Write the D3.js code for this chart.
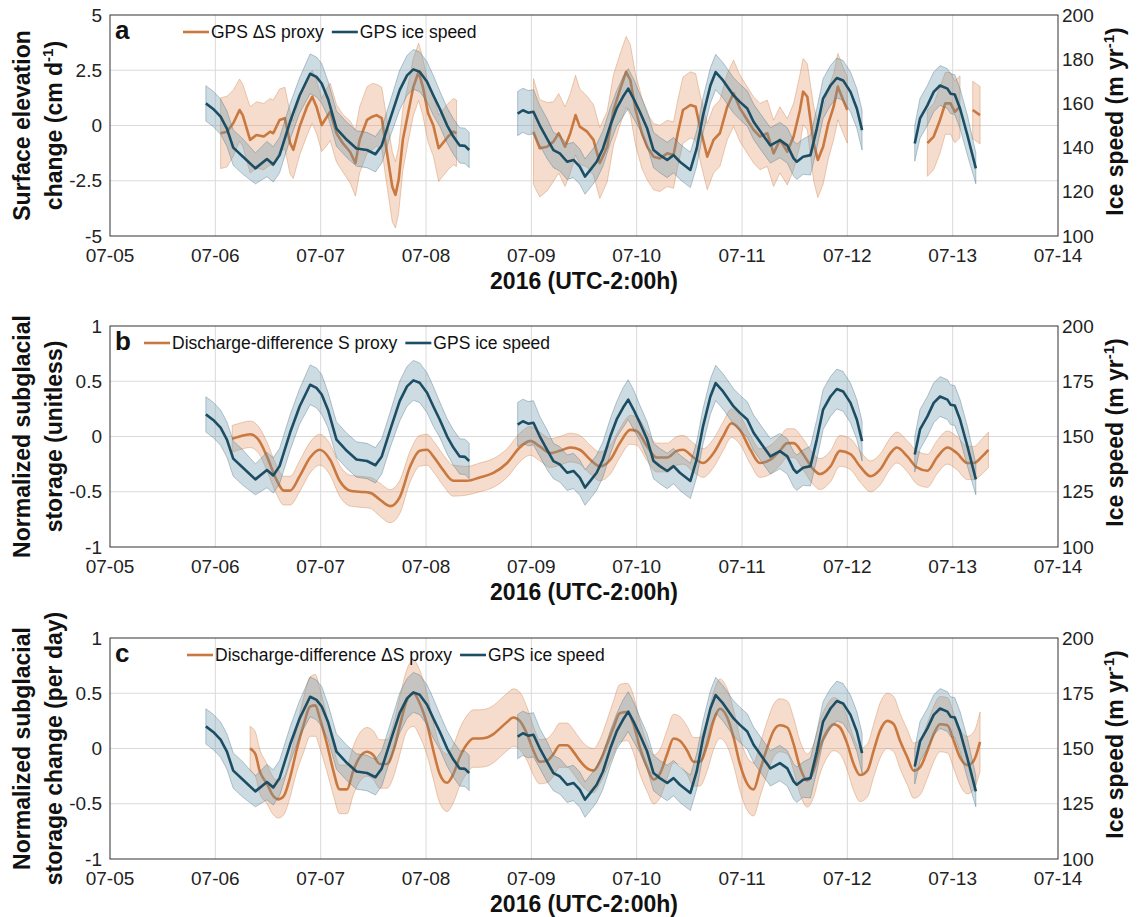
<!DOCTYPE html>
<html lang="en">
<head>
<meta charset="UTF-8">
<title>storage proxies vs ice speed</title>
<script src="https://d3js.org/d3.v7.min.js"></script>
<style>
  body{margin:0;background:#fff;}
  svg{font-family:"Liberation Sans",Arial,Helvetica,sans-serif;}
  .tick-lab{font-size:19px;fill:#222;}
  .ax-title{font-size:23px;font-weight:bold;fill:#111;}
  .leg{font-size:17.5px;fill:#111;}
  .letter{font-size:26px;font-weight:bold;fill:#111;}
</style>
</head>
<body>
<svg id="fig" width="1143" height="917"></svg>
<script>
// time is days after 2016-07-05 00:00 (UTC-2), null value = gap

// GPS ice speed (m/yr), same series in all three panels
let speedDays = [
  0.91,0.98,1.05,1.11,1.17,1.26,1.38,1.49,1.55,1.61,1.71,1.80,1.90,1.96,2.01,2.07,2.15,2.25,2.34,2.44,2.52,2.58,2.66,2.75,2.82,2.88,2.94,3.01,3.07,3.13,3.20,3.26,3.32,3.37,3.41,
  3.60,
  3.87,3.92,3.97,4.02,4.08,4.15,4.21,4.27,4.34,4.40,4.46,4.51,4.56,4.62,4.68,4.75,4.81,4.87,4.92,4.97,5.03,5.10,5.16,5.22,5.29,5.35,5.41,5.51,5.57,5.63,5.70,5.75,5.82,5.92,5.98,6.05,6.11,6.20,6.27,6.36,6.43,6.49,6.52,6.58,6.65,6.71,6.77,6.84,6.90,6.96,7.03,7.09,7.14,
  7.40,
  7.64,7.69,7.76,7.82,7.88,7.95,7.98,8.02,8.07,8.14,8.22]
let speedVals = [
  160,157.5,154,148.6,140,136,130.6,134.8,132.4,136.6,151.8,163.6,173.4,172,169,162,148.6,143.4,139.6,138.9,137,141,153,166,172.7,175.4,174.3,169.8,163.6,157.7,150.1,145,141,140.8,138.9,
  null,
  155.4,156.9,155.8,156.2,150.1,144,138.9,137.4,133.6,134.4,131.4,126.9,129.9,133.6,139.6,150.1,157.7,163,166.7,162.2,156.2,148.6,138.9,136.6,134.4,136.6,133.6,129.9,139.6,154.6,168.1,174.2,170.4,163.6,160.7,157.7,151.7,145.6,141,143.4,141,135.1,133.6,135.9,136.6,148.6,162.2,168.1,171.5,170.4,165.2,157.7,147.9,
  null,
  141.9,153.2,159.1,165.2,168.1,166.7,164.4,164,157.7,145.6,130.6]
let speedErr = [
  8,8,8,8,8,8,7,8,8,8,8,8,9,9,9,8,8,8,8,8,8,8,8,9,9,9,9,9,9,8,8,8,8,8,8,
  0,
  10,10,10,10,9,9,8,8,8,8,8,8,8,8,8,8,8,9,9,9,8,8,8,8,8,8,8,8,8,8,8,8,8,8,8,8,8,8,8,8,8,8,8,8,9,9,9,9,9,9,9,9,9,
  0,
  8,9,9,9,9,9,9,9,9,9,7]

// panel a: GPS dS proxy (cm/d)
let gpsDays = [
  1.05,1.11,1.17,1.23,1.26,1.33,1.39,1.46,1.52,1.55,1.61,1.66,1.71,1.74,1.80,1.87,1.92,1.96,2.01,2.06,2.09,2.15,2.21,2.28,2.33,2.37,2.44,2.49,2.53,2.58,2.63,2.68,2.71,2.74,2.78,2.83,2.88,2.93,2.97,3.02,3.07,3.12,3.16,3.21,3.26,3.29,
  3.60,
  4.02,4.08,4.15,4.21,4.26,4.32,4.37,4.42,4.46,4.53,4.59,4.65,4.72,4.78,4.84,4.90,4.94,4.99,5.05,5.10,5.16,5.22,5.29,5.35,5.39,5.44,5.51,5.56,5.60,5.67,5.73,5.79,5.86,5.92,5.98,6.05,6.11,6.17,6.24,6.30,6.36,6.43,6.49,6.55,6.58,6.62,6.65,6.68,6.72,6.77,6.82,6.87,6.91,6.96,7.00,
  7.40,
  7.76,7.82,7.88,7.93,7.98,8.02,8.07,
  8.13,
  8.19,8.26]
let gpsVals = [
  -0.35,-0.28,0.1,0.7,0.47,-0.65,-0.43,-0.5,-0.28,-0.35,0.25,0.33,-0.8,-1.1,-0.05,0.85,1.3,0.85,0.02,0.4,0.62,-0.35,-0.8,-1.2,-1.7,-0.65,0.25,0.4,0.47,0.33,-1.25,-2.77,-3.14,-2.47,-0.65,0.55,1.75,2.43,1.75,0.55,0,-1.03,-0.8,-0.5,-0.28,-0.35,
  null,
  -0.28,-1.03,-0.96,-0.73,-0.35,-0.96,-0.35,0.47,-0.05,-0.28,-0.65,-1.7,-0.96,0.7,1.6,2.43,2.06,0.7,-0.35,-0.96,-1.41,-1.49,-1.26,-1.34,-0.35,0.7,0.93,0.85,-0.05,-1.41,-0.65,-0.35,0.85,1.46,0.78,0.25,-0.2,-0.5,-0.35,-1.26,-0.65,-1.19,-0.5,0.7,1.53,1.3,0.25,-0.8,-1.56,-0.96,0.1,0.85,1.76,1.15,0.7,
  null,
  -0.8,-0.5,0.25,1.0,1.0,0.62,0.85,
  null,
  0.7,0.47]
let gpsErr = [
  1.6,1.6,1.5,1.4,1.4,1.5,1.5,1.5,1.5,1.5,1.4,1.4,1.4,1.3,1.3,1.3,1.2,1.2,1.2,1.3,1.3,1.3,1.3,1.4,1.5,1.5,1.5,1.5,1.4,1.4,1.5,1.6,1.5,1.5,1.4,1.3,1.3,1.3,1.3,1.3,1.4,1.5,1.5,1.5,1.5,1.5,
  0,
  2.4,2.2,2.0,1.8,1.8,1.8,1.8,1.8,1.7,1.6,1.6,1.6,1.6,1.6,1.6,1.6,1.6,1.6,1.6,1.5,1.5,1.5,1.5,1.5,1.5,1.5,1.5,1.5,1.5,1.5,1.5,1.5,1.5,1.5,1.5,1.5,1.5,1.5,1.5,1.5,1.5,1.5,1.5,1.6,1.5,1.5,1.6,1.7,1.7,1.7,1.6,1.5,1.5,1.5,1.5,
  0,
  1.5,1.5,1.5,1.4,1.4,1.4,1.4,
  0,
  1.3,1.3]

// panel b: discharge-difference S proxy (normalized)
let sDays = [1.16,1.23,1.33,1.41,1.49,1.58,1.65,1.71,1.80,1.90,1.99,2.09,2.18,2.28,2.37,2.47,2.56,2.66,2.75,2.85,2.94,3.01,3.07,3.16,3.26,3.39,3.51,3.64,3.77,3.89,3.99,4.08,4.18,4.27,4.37,4.46,4.56,4.65,4.75,4.84,4.94,5.00,5.10,5.19,5.29,5.38,5.44,5.54,5.63,5.73,5.82,5.90,5.98,6.08,6.17,6.27,6.36,6.43,6.49,6.58,6.68,6.74,6.84,6.93,7.03,7.12,7.22,7.31,7.41,7.47,7.57,7.66,7.76,7.85,7.95,8.04,8.14,8.20,8.28,8.34]
let sVals = [-0.02,0.0,0.02,-0.03,-0.18,-0.39,-0.49,-0.49,-0.36,-0.19,-0.12,-0.21,-0.4,-0.49,-0.5,-0.51,-0.57,-0.63,-0.55,-0.27,-0.13,-0.12,-0.18,-0.3,-0.4,-0.4,-0.37,-0.33,-0.24,-0.1,-0.04,-0.09,-0.15,-0.13,-0.1,-0.12,-0.21,-0.27,-0.21,-0.06,0.06,0.05,-0.09,-0.19,-0.19,-0.13,-0.12,-0.19,-0.24,-0.15,0.0,0.12,0.06,-0.12,-0.24,-0.21,-0.13,-0.06,-0.06,-0.16,-0.3,-0.34,-0.27,-0.13,-0.16,-0.27,-0.36,-0.3,-0.15,-0.1,-0.18,-0.28,-0.31,-0.19,-0.1,-0.15,-0.24,-0.24,-0.18,-0.12]
let sErr = [0.12,0.12,0.12,0.12,0.13,0.13,0.13,0.13,0.14,0.14,0.14,0.14,0.14,0.14,0.14,0.14,0.15,0.15,0.15,0.14,0.14,0.14,0.14,0.14,0.14,0.13,0.13,0.13,0.13,0.13,0.13,0.13,0.13,0.13,0.13,0.13,0.13,0.13,0.13,0.13,0.13,0.13,0.13,0.13,0.13,0.13,0.13,0.13,0.13,0.13,0.13,0.13,0.13,0.13,0.13,0.13,0.13,0.13,0.13,0.14,0.14,0.14,0.14,0.14,0.14,0.14,0.14,0.14,0.14,0.14,0.14,0.15,0.15,0.15,0.15,0.15,0.15,0.15,0.16,0.16]

// panel c: discharge-difference dS proxy (normalized, per day)
let dsDays = [1.33,1.38,1.42,1.49,1.55,1.60,1.65,1.71,1.77,1.84,1.90,1.95,1.99,2.06,2.12,2.18,2.25,2.31,2.37,2.44,2.50,2.56,2.63,2.69,2.75,2.82,2.88,2.94,3.01,3.07,3.13,3.20,3.26,3.32,3.39,3.45,3.51,3.58,3.64,3.70,3.77,3.83,3.89,3.96,4.02,4.08,4.15,4.21,4.27,4.34,4.40,4.46,4.53,4.59,4.65,4.72,4.78,4.84,4.91,4.97,5.03,5.10,5.16,5.22,5.29,5.35,5.41,5.48,5.54,5.60,5.67,5.73,5.79,5.86,5.92,5.98,6.05,6.11,6.17,6.24,6.30,6.36,6.43,6.49,6.55,6.62,6.68,6.74,6.81,6.87,6.93,7.00,7.06,7.12,7.19,7.25,7.31,7.38,7.44,7.50,7.57,7.63,7.69,7.76,7.82,7.88,7.95,8.01,8.07,8.14,8.20,8.26]
let dsVals = [0.0,-0.05,-0.2,-0.32,-0.43,-0.46,-0.43,-0.26,-0.02,0.22,0.38,0.39,0.28,0.04,-0.2,-0.37,-0.37,-0.2,-0.08,-0.03,-0.06,-0.14,-0.14,-0.02,0.2,0.44,0.5,0.41,0.22,-0.02,-0.23,-0.31,-0.23,-0.08,0.04,0.09,0.09,0.1,0.13,0.18,0.24,0.28,0.25,0.13,-0.02,-0.12,-0.11,-0.05,0.03,0.03,-0.03,-0.11,-0.18,-0.2,-0.12,0.04,0.19,0.32,0.33,0.22,0.01,-0.17,-0.28,-0.23,-0.05,0.09,0.07,-0.02,-0.12,-0.12,0.04,0.25,0.36,0.28,0.1,-0.14,-0.32,-0.37,-0.2,0.01,0.16,0.21,0.19,0.04,-0.17,-0.29,-0.2,0.01,0.16,0.22,0.19,0.04,-0.14,-0.24,-0.2,-0.02,0.16,0.25,0.22,0.07,-0.08,-0.2,-0.17,-0.02,0.13,0.22,0.21,0.07,-0.08,-0.15,-0.11,0.06]
let dsErr = [0.2,0.2,0.2,0.18,0.17,0.17,0.17,0.18,0.2,0.25,0.27,0.28,0.27,0.25,0.22,0.22,0.22,0.22,0.22,0.22,0.22,0.22,0.22,0.24,0.26,0.28,0.3,0.3,0.28,0.26,0.26,0.26,0.26,0.26,0.26,0.26,0.26,0.26,0.26,0.26,0.26,0.26,0.26,0.24,0.22,0.2,0.2,0.2,0.2,0.2,0.2,0.2,0.2,0.2,0.2,0.22,0.24,0.26,0.26,0.26,0.24,0.22,0.22,0.22,0.22,0.22,0.22,0.22,0.22,0.22,0.24,0.26,0.27,0.26,0.25,0.24,0.24,0.24,0.24,0.24,0.24,0.24,0.24,0.24,0.24,0.24,0.24,0.24,0.24,0.24,0.24,0.24,0.24,0.24,0.24,0.24,0.25,0.25,0.25,0.25,0.25,0.25,0.25,0.25,0.25,0.25,0.25,0.25,0.25,0.26,0.26,0.27]

let letters = ["a", "b", "c"]
let leftTicks = [[-5,-2.5,0,2.5,5], [-1,-0.5,0,0.5,1], [-1,-0.5,0,0.5,1]]
let rightTicks = [[100,120,140,160,180,200], [100,125,150,175,200], [100,125,150,175,200]]
let leftLabels = [
  [[{t:"Surface elevation"}], [{t:"change (cm d"},{t:"-1",sup:true},{t:")"}]],
  [[{t:"Normalized subglacial"}], [{t:"storage (unitless)"}]],
  [[{t:"Normalized subglacial"}], [{t:"storage change (per day)"}]]
]
let legendNames = [
  ["GPS \u0394S proxy", "GPS ice speed"],
  ["Discharge-difference S proxy", "GPS ice speed"],
  ["Discharge-difference \u0394S proxy", "GPS ice speed"]
]
let xTitle = "2016 (UTC-2:00h)"

const ORANGE = "#c9783f", ORANGE_BAND = "#e39c6c"
const BLUE = "#1b4e64", BLUE_BAND = "#6f97ad"

const svg = d3.select("#fig")
const left = 110, right = 1058
const tops = [15, 326, 638], ph = 221
const legendX = [183, 144, 187]
const t0 = Date.UTC(2016, 6, 5)
const toDate = d => new Date(t0 + d * 864e5)
const x = d3.scaleUtc().domain([toDate(0), toDate(9)]).range([left, right])
const dayTicks = d3.range(0, 10).map(toDate)
const fmt = d3.utcFormat("%m-%d")

function rows(days, vals, errs) {
  return days.map((d, i) => ({t: toDate(d), v: vals[i], e: errs[i]}))
}
const orangeSeries = [rows(gpsDays, gpsVals, gpsErr), rows(sDays, sVals, sErr), rows(dsDays, dsVals, dsErr)]
const speedRows = rows(speedDays, speedVals, speedErr)

function band(g, data, y, fill, stroke, curve) {
  let a = d3.area().defined(p => p.v !== null)
    .x(p => x(p.t)).y0(p => y(p.v - p.e)).y1(p => y(p.v + p.e)).curve(curve)
  g.append("path").datum(data).attr("d", a)
    .attr("fill", fill).attr("fill-opacity", 0.35)
    .attr("stroke", stroke).attr("stroke-opacity", 0.45).attr("stroke-width", 0.8)
}
function line(g, data, y, color, curve) {
  let l = d3.line().defined(p => p.v !== null).x(p => x(p.t)).y(p => y(p.v)).curve(curve)
  g.append("path").datum(data).attr("d", l)
    .attr("fill", "none").attr("stroke", color).attr("stroke-width", 2.6)
    .attr("stroke-linejoin", "round")
}
function richText(sel, parts) {
  let shift = 0
  parts.forEach(p => {
    let ts = sel.append("tspan").text(p.t)
    if (p.sup) { ts.attr("font-size", "15px").attr("dy", -9); shift = 9 }
    else if (shift) { ts.attr("dy", shift); shift = 0 }
  })
}

tops.forEach((top, k) => {
  const bottom = top + ph
  const yL = d3.scaleLinear().domain([leftTicks[k][0], leftTicks[k][4]]).range([bottom, top])
  const yR = d3.scaleLinear().domain([100, 200]).range([bottom, top])
  const g = svg.append("g")

  // grid
  g.selectAll(".hg").data(leftTicks[k].slice(1, -1)).join("line")
    .attr("x1", left).attr("x2", right).attr("y1", d => yL(d)).attr("y2", d => yL(d))
    .attr("stroke", "#dadada").attr("stroke-width", 1)
  g.selectAll(".vg").data(dayTicks.slice(1, -1)).join("line")
    .attr("x1", d => x(d)).attr("x2", d => x(d)).attr("y1", top).attr("y2", bottom)
    .attr("stroke", "#dadada").attr("stroke-width", 1)

  const clipId = "clip" + k
  svg.append("clipPath").attr("id", clipId).append("rect")
    .attr("x", left).attr("y", top).attr("width", right - left).attr("height", ph)
  const plot = g.append("g").attr("clip-path", `url(#${clipId})`)
  const oc = k === 0 ? d3.curveLinear : d3.curveMonotoneX
  band(plot, orangeSeries[k], yL, ORANGE_BAND, ORANGE, oc)
  line(plot, orangeSeries[k], yL, ORANGE, oc)
  band(plot, speedRows, yR, BLUE_BAND, "#3f6b80", d3.curveLinear)
  line(plot, speedRows, yR, BLUE, d3.curveLinear)

  g.append("rect").attr("x", left).attr("y", top).attr("width", right - left).attr("height", ph)
    .attr("fill", "none").attr("stroke", "#333").attr("stroke-width", 1)

  // tick labels
  g.selectAll(".lt").data(leftTicks[k]).join("text").attr("class", "tick-lab")
    .attr("x", left - 8).attr("y", d => yL(d)).attr("text-anchor", "end")
    .attr("dominant-baseline", "central").text(d => String(d))
  g.selectAll(".rt").data(rightTicks[k]).join("text").attr("class", "tick-lab")
    .attr("x", right + 4).attr("y", d => yR(d)).attr("dominant-baseline", "central").text(d => d)
  g.selectAll(".xt").data(dayTicks).join("text").attr("class", "tick-lab")
    .attr("x", d => x(d)).attr("y", bottom + 26).attr("text-anchor", "middle").text(d => fmt(d))

  // axis titles
  g.append("text").attr("class", "ax-title").attr("x", (left + right) / 2).attr("y", bottom + 53)
    .attr("text-anchor", "middle").text(xTitle)
  const cy = top + ph / 2
  leftLabels[k].forEach((parts, j) => {
    let t = g.append("text").attr("class", "ax-title").attr("text-anchor", "middle")
      .attr("transform", `translate(${j === 0 ? 30 : 62},${cy}) rotate(-90)`)
    richText(t, parts)
  })
  let rt = g.append("text").attr("class", "ax-title").attr("text-anchor", "middle")
    .attr("transform", `translate(1123,${cy - 4}) rotate(-90)`)
  richText(rt, [{t:"Ice speed (m yr"},{t:"-1",sup:true},{t:")"}])

  // panel letter + legend
  g.append("text").attr("class", "letter").attr("x", left + 5).attr("y", top + 24).text(letters[k])
  let lx = legendX[k], ly = top + 17
  legendNames[k].forEach((name, j) => {
    let c = j === 0 ? ORANGE : BLUE
    g.append("line").attr("x1", lx).attr("x2", lx + 26).attr("y1", ly).attr("y2", ly)
      .attr("stroke", c).attr("stroke-width", 2.6)
    let tx = g.append("text").attr("class", "leg").attr("x", lx + 28).attr("y", ly)
      .attr("dominant-baseline", "central").text(name)
    lx = lx + 28 + tx.node().getComputedTextLength() + 8
  })
})
</script>
</body>
</html>
